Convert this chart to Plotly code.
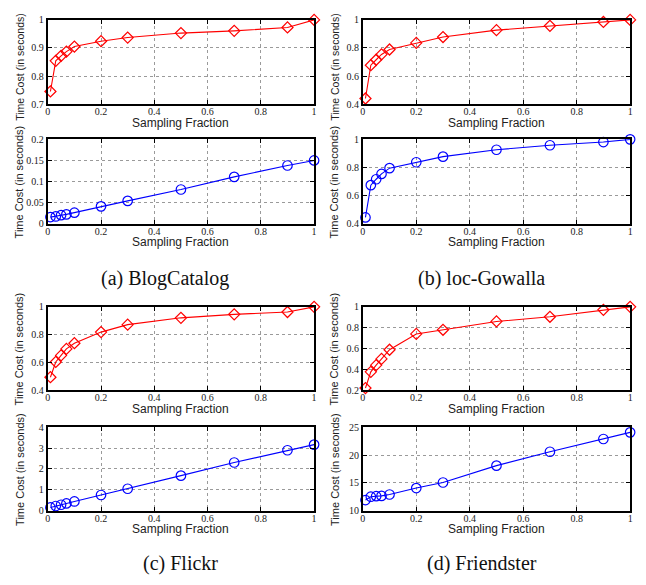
import plotly.graph_objects as go

W, H = 646, 585
OFF = 8  # the page body margin shifts the figure by this many pixels

fractions = [0.01, 0.03, 0.05, 0.07, 0.1, 0.2, 0.3, 0.5, 0.7, 0.9, 1.0]

blog_red = [0.745, 0.854, 0.872, 0.887, 0.905, 0.924, 0.937, 0.953, 0.961, 0.973, 1.0]
blog_blue = [0.0155, 0.017, 0.020, 0.022, 0.026, 0.041, 0.054, 0.081, 0.111, 0.138, 0.150]
gow_red = [0.44, 0.677, 0.716, 0.754, 0.789, 0.836, 0.878, 0.927, 0.958, 0.985, 1.0]
gow_blue = [0.444, 0.674, 0.716, 0.754, 0.795, 0.837, 0.877, 0.926, 0.958, 0.981, 1.0]
flk_red = [0.493, 0.603, 0.650, 0.697, 0.738, 0.818, 0.872, 0.921, 0.946, 0.963, 1.0]
flk_blue = [0.15, 0.22, 0.28, 0.345, 0.44, 0.75, 1.05, 1.68, 2.31, 2.90, 3.17]
fri_red = [0.22, 0.376, 0.44, 0.50, 0.588, 0.74, 0.78, 0.86, 0.905, 0.972, 1.0]
fri_blue = [11.9, 12.5, 12.6, 12.65, 12.9, 14.06, 15.06, 18.1, 20.6, 22.9, 24.1]

x_ticks = [0, 0.2, 0.4, 0.6, 0.8, 1.0]
x_ticklabels = ["0", "0.2", "0.4", "0.6", "0.8", "1"]

captions = ["(a) BlogCatalog", "(b) loc-Gowalla", "(c) Flickr", "(d) Friendster"]

# panels: (values, color, symbol, y range, y ticks, y tick labels)
panels = [
    (blog_red, "red", "diamond-open", [0.7, 1.0], [0.7, 0.8, 0.9, 1.0], ["0.7", "0.8", "0.9", "1"]),
    (blog_blue, "blue", "circle-open", [0, 0.2], [0, 0.05, 0.1, 0.15, 0.2], ["0", "0.05", "0.1", "0.15", "0.2"]),
    (gow_red, "red", "diamond-open", [0.4, 1.0], [0.4, 0.6, 0.8, 1.0], ["0.4", "0.6", "0.8", "1"]),
    (gow_blue, "blue", "circle-open", [0.4, 1.0], [0.4, 0.6, 0.8, 1.0], ["0.4", "0.6", "0.8", "1"]),
    (flk_red, "red", "diamond-open", [0.4, 1.0], [0.4, 0.6, 0.8, 1.0], ["0.4", "0.6", "0.8", "1"]),
    (flk_blue, "blue", "circle-open", [0, 4], [0, 1, 2, 3, 4], ["0", "1", "2", "3", "4"]),
    (fri_red, "red", "diamond-open", [0.2, 1.0], [0.2, 0.4, 0.6, 0.8, 1.0], ["0.2", "0.4", "0.6", "0.8", "1"]),
    (fri_blue, "blue", "circle-open", [10, 25], [10, 15, 20, 25], ["10", "15", "20", "25"]),
]

# pixel boxes in the target picture (left, right), (top, bottom)
col_x = [(46, 314), (363, 632)]
row_y = [[(14, 100), (136, 222)], [(307, 392), (430, 515)]]
boxes = [
    (col_x[0], row_y[0][0]), (col_x[0], row_y[0][1]),
    (col_x[1], row_y[0][0]), (col_x[1], row_y[0][1]),
    (col_x[0], row_y[1][0]), (col_x[0], row_y[1][1]),
    (col_x[1], row_y[1][0]), (col_x[1], row_y[1][1]),
]


def px(x):
    return (x - OFF) / W


def py(y):
    return 1 - (y - OFF) / H


fig = go.Figure()
layout = {}
annotations = []
serif = "Liberation Serif"
sans = "Liberation Sans"

for i, ((vals, color, symbol, yr, yt, ytl), ((x0, x1), (y0, y1))) in enumerate(zip(panels, boxes)):
    n = i + 1
    xa = "x" if n == 1 else f"x{n}"
    ya = "y" if n == 1 else f"y{n}"
    fig.add_trace(go.Scatter(
        x=fractions, y=vals, mode="lines+markers", xaxis=xa, yaxis=ya,
        line=dict(color=color, width=1.1),
        marker=dict(symbol=symbol, size=8.5 if "diamond" in symbol else 9.5,
                    color=color, line=dict(color=color, width=1.2)),
        showlegend=False, cliponaxis=False,
    ))
    common = dict(
        showline=True, linecolor="black", linewidth=1.8, mirror="allticks",
        ticks="inside", ticklen=4, tickcolor="black", tickwidth=1,
        showgrid=True, gridcolor="#9a9a9a", griddash="dot", gridwidth=1,
        zeroline=False, tickfont=dict(family=serif, size=10, color="#222"),
    )
    layout["xaxis" if n == 1 else f"xaxis{n}"] = dict(
        domain=[px(x0), px(x1)], anchor=ya, range=[0, 1],
        tickvals=x_ticks, ticktext=x_ticklabels, ticklabelstandoff=-3, **common)
    layout["yaxis" if n == 1 else f"yaxis{n}"] = dict(
        domain=[py(y1), py(y0)], anchor=xa, range=yr,
        tickvals=yt, ticktext=ytl, **common)
    annotations.append(dict(
        text="Sampling Fraction", x=px((x0 + x1) / 2), y=py(y1 + 19),
        xref="paper", yref="paper", showarrow=False, xanchor="center", yanchor="middle",
        font=dict(family=sans, size=12, color="#222")))
    yc = (y0 + y1) / 2
    fs = 11
    if yc < 62:
        yc = 62  # keep the rotated title inside the drawable area
        fs = 10.5
    annotations.append(dict(
        text="Time Cost (in seconds)", x=px(x0 - 28), y=py(yc),
        xref="paper", yref="paper", showarrow=False, xanchor="center", yanchor="middle",
        textangle=-90, font=dict(family=sans, size=fs, color="#222")))

cap_pos = [(164, 278), (482, 278), (180, 569), (483, 569)]
for cap, (cx, cy) in zip(captions, cap_pos):
    annotations.append(dict(
        text=cap, x=px(cx), y=py(cy), xref="paper", yref="paper",
        showarrow=False, xanchor="center", yanchor="middle",
        font=dict(family=serif, size=20, color="#111")))

fig.update_layout(
    width=W, height=H, margin=dict(l=0, r=0, t=0, b=0),
    paper_bgcolor="white", plot_bgcolor="white",
    annotations=annotations, **layout)

fig.write_html("out.html")
